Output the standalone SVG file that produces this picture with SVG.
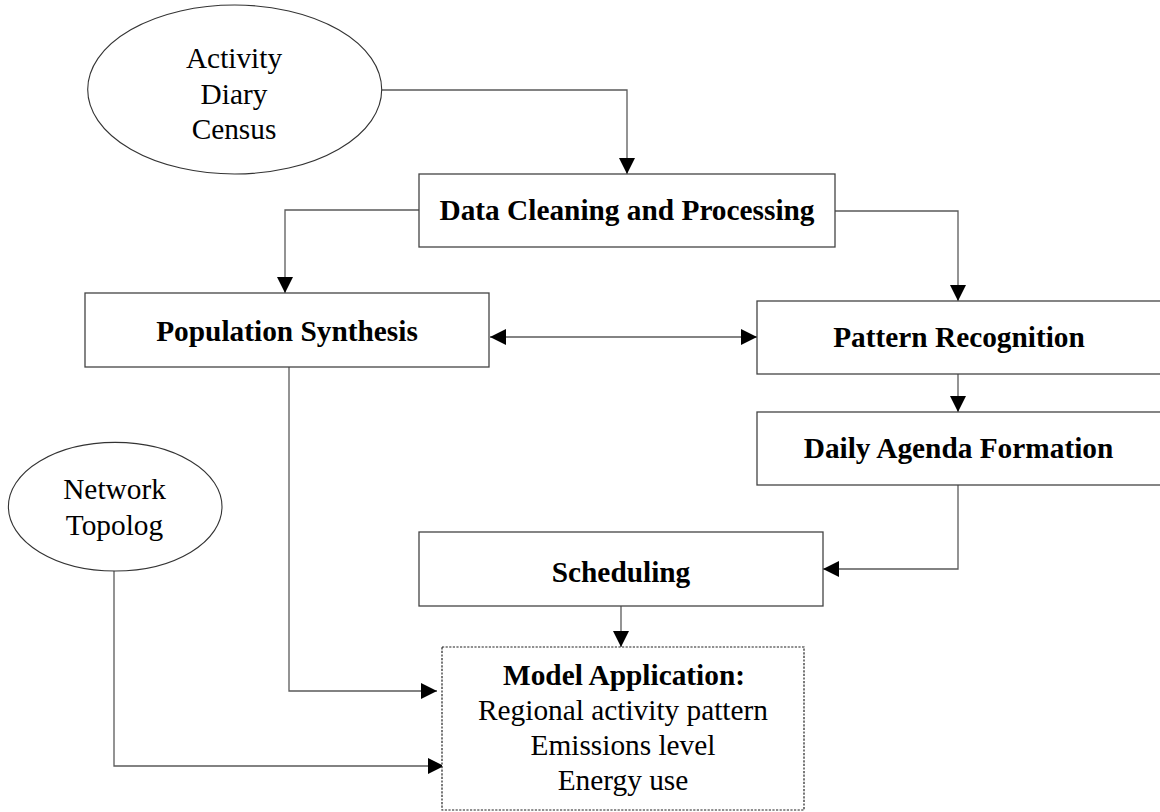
<svg xmlns="http://www.w3.org/2000/svg" width="1160" height="812" viewBox="0 0 1160 812">
  <style>
    .box { fill: #ffffff; stroke: #444444; stroke-width: 1.3; }
    .oval { fill: #ffffff; stroke: #333333; stroke-width: 1.1; }
    .dash { fill: #ffffff; stroke: #222222; stroke-width: 1.2; stroke-dasharray: 2.2 1.4; }
    .wire { fill: none; stroke: #5a5a5a; stroke-width: 1.3; }
    .t { font-family: "Liberation Serif", "Times New Roman", serif; font-size: 29.33px; fill: #000000; text-anchor: middle; }
    .b { font-weight: bold; }
  </style>
  <defs>
    <marker id="arrow" viewBox="0 0 16 16" markerWidth="16" markerHeight="16" refX="16" refY="8" orient="auto-start-reverse" markerUnits="userSpaceOnUse">
      <path d="M0,0 L16,8 L0,16 z" fill="#000000"/>
    </marker>
  </defs>

  <!-- connectors -->
  <g id="connectors">
    <path class="wire" d="M382,90 H627 V174" marker-end="url(#arrow)"/>
    <path class="wire" d="M419,210 H285 V293" marker-end="url(#arrow)"/>
    <path class="wire" d="M835,211 H958 V301" marker-end="url(#arrow)"/>
    <path class="wire" d="M490,337 H757" marker-start="url(#arrow)" marker-end="url(#arrow)"/>
    <path class="wire" d="M958,374 V412" marker-end="url(#arrow)"/>
    <path class="wire" d="M958,485 V569 H823" marker-end="url(#arrow)"/>
    <path class="wire" d="M621,606 V647" marker-end="url(#arrow)"/>
    <path class="wire" d="M289,367 V691 H437" marker-end="url(#arrow)"/>
    <path class="wire" d="M114,571 V766 H444" marker-end="url(#arrow)"/>
  </g>

  <!-- input data sources -->
  <g id="activity-diary-census">
    <ellipse class="oval" cx="234.7" cy="89.5" rx="147" ry="84.5"/>
    <text class="t" x="234" y="68">Activity</text>
    <text class="t" x="234" y="103.5">Diary</text>
    <text class="t" x="234" y="139">Census</text>
  </g>

  <g id="network-topology">
    <ellipse class="oval" cx="115.2" cy="506.7" rx="106.8" ry="64.3"/>
    <text class="t" x="114.5" y="499">Network</text>
    <text class="t" x="114.5" y="535">Topolog</text>
  </g>

  <!-- processing steps -->
  <g id="data-cleaning">
    <rect class="box" x="419" y="174" width="416" height="73"/>
    <text class="t b" x="627" y="220">Data Cleaning and Processing</text>
  </g>

  <g id="population-synthesis">
    <rect class="box" x="85" y="293" width="404" height="74"/>
    <text class="t b" x="287" y="341">Population Synthesis</text>
  </g>

  <g id="pattern-recognition">
    <rect class="box" x="757" y="301" width="410" height="73"/>
    <text class="t b" x="959" y="347">Pattern Recognition</text>
  </g>

  <g id="daily-agenda">
    <rect class="box" x="757" y="412" width="410" height="73"/>
    <text class="t b" x="958.5" y="458">Daily Agenda Formation</text>
  </g>

  <g id="scheduling">
    <rect class="box" x="419" y="532" width="404" height="74"/>
    <text class="t b" x="621" y="582">Scheduling</text>
  </g>

  <g id="model-application">
    <rect class="dash" x="442" y="647" width="362" height="163"/>
    <text class="t b" x="624" y="685">Model Application:</text>
    <text class="t" x="623" y="720">Regional activity pattern</text>
    <text class="t" x="623" y="755">Emissions level</text>
    <text class="t" x="623" y="790">Energy use</text>
  </g>
</svg>
